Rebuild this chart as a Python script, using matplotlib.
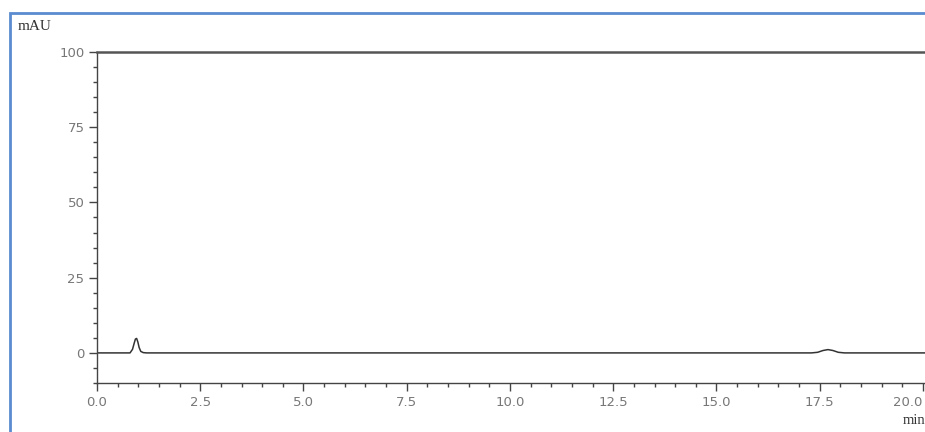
import matplotlib
matplotlib.use("Agg")
import matplotlib.pyplot as plt
from matplotlib.patches import Rectangle
from matplotlib.ticker import MultipleLocator
import matplotlib.transforms as mtransforms

# Chromatogram trace (time in min, signal in mAU)
time_min = [0.0, 0.80, 0.86, 0.90, 0.93, 0.96, 0.99, 1.02, 1.06, 1.12, 1.20,
            17.30, 17.45, 17.58, 17.70, 17.82, 17.95, 18.10, 20.2]
signal_mau = [0.0, 0.0, 1.2, 3.2, 4.6, 4.8, 3.6, 1.8, 0.5, 0.1, 0.0,
              0.0, 0.2, 0.8, 1.1, 0.8, 0.2, 0.0, 0.0]

x_ticks = [0.0, 2.5, 5.0, 7.5, 10.0, 12.5, 15.0, 17.5, 20.0]
x_tick_labels = ["0.0", "2.5", "5.0", "7.5", "10.0", "12.5", "15.0", "17.5", "20.0"]
y_ticks = [0, 25, 50, 75, 100]
y_tick_labels = ["0", "25", "50", "75", "100"]

W, H = 925, 432
fig = plt.figure(figsize=(W / 100, H / 100), dpi=100)
fig.patch.set_facecolor("white")

# blue outer frame (cut at right and bottom)
fig.add_artist(Rectangle((10 / W, -0.1), 1.2, 1 - 13 / H + 0.1, transform=fig.transFigure,
                         fill=False, edgecolor="#5b8bd0", linewidth=2.0, zorder=0))

left, right = 97 / W, 1.0
bottom, top = 1 - 383 / H, 1 - 52 / H
ax = fig.add_axes([left, bottom, right - left, top - bottom])
ax.set_facecolor("none")

ax.plot(time_min, signal_mau, color="#333333", linewidth=1.1)

ax.set_xlim(0, 20.05)
ax.set_ylim(-10, 100)

ax.set_xticks(x_ticks)
ax.set_xticklabels(x_tick_labels)
ax.set_yticks(y_ticks)
ax.set_yticklabels(y_tick_labels)
ax.xaxis.set_minor_locator(MultipleLocator(0.5))
ax.yaxis.set_minor_locator(MultipleLocator(5))

ax.spines["right"].set_visible(False)
for s in ["left", "bottom"]:
    ax.spines[s].set_color("#444444")
    ax.spines[s].set_linewidth(1.0)
ax.spines["top"].set_color("#555555")
ax.spines["top"].set_linewidth(1.8)

ax.tick_params(axis="both", which="major", direction="out", length=6, width=1.0,
               color="#444444", labelcolor="#777777", labelsize=9.5, pad=3)
ax.tick_params(axis="both", which="minor", direction="out", length=3, width=1.0,
               color="#444444")

# last x label pulled inside the figure edge
last = ax.xaxis.get_major_ticks()[-1].label1
last.set_horizontalalignment("right")
last.set_transform(last.get_transform() + mtransforms.ScaledTranslation(-1 / 100, 0, fig.dpi_scale_trans))

fig.text(18 / W, 1 - 26 / H, "mAU", family="Liberation Serif", fontsize=11,
         color="#333333", va="center", ha="left")
fig.text(925 / W, 1 - 421 / H, "min", family="Liberation Serif", fontsize=10.5,
         color="#333333", va="center", ha="right")

fig.savefig("out.png", dpi=100, facecolor="white")
